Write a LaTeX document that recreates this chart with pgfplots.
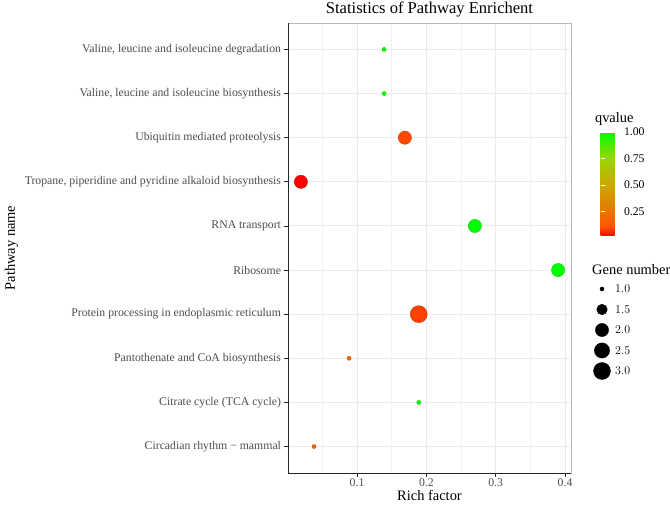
\documentclass[border=0pt]{standalone}
\usepackage{fontspec}
\setmainfont{Liberation Serif}
\usepackage{pgfplots}
\pgfplotsset{compat=1.18}
\usepackage{pgfplotstable}

\definecolor{txtgray}{HTML}{4D4D4D}
\definecolor{gridmaj}{HTML}{EBEBEB}
\definecolor{gridmin}{HTML}{F2F2F2}

% y: category position, r: rich factor, q: qvalue, g: gene number
\pgfplotstableread{
y r q g
10 0.139 1.00 1
9 0.139 1.00 1
8 0.169 0.10 2
7 0.019 0.02 2
6 0.270 1.00 2
5 0.390 1.00 2
4 0.189 0.09 3
3 0.0885 0.18 1
2 0.189 1.00 1
1 0.038 0.18 1
}\datatable

\pgfplotstableread{
pos g
5 1.0
4 1.5
3 2.0
2 2.5
1 3.0
}\sizetable

\pgfplotsset{colormap={qcol}{rgb255(0pt)=(255,0,0) rgb255(5pt)=(251,51,0) rgb255(10pt)=(255,86,0) rgb255(25pt)=(232,119,0) rgb255(50pt)=(200,171,0) rgb255(75pt)=(152,215,0) rgb255(100pt)=(0,255,0)}}

\newcommand{\tickfont}{\fontsize{11.8}{13}\selectfont}
\newcommand{\labfont}{\fontsize{14.5}{16}\selectfont}

\begin{document}
\begin{tikzpicture}
\useasboundingbox (0,0) rectangle (670bp,505bp);
\begin{axis}[
  at={(288bp,32bp)}, anchor=south west,
  scale only axis, width=283bp, height=450bp,
  xmin=0.0004, xmax=0.4086, ymin=0.4, ymax=10.6,
  xtick={0.1,0.2,0.3,0.4}, xticklabels={0.1,0.2,0.3,0.4},
  minor xtick={0.05,0.15,0.25,0.35},
  ytick={1,2,3,4,5,6,7,8,9,10},
  yticklabels={Circadian rhythm − mammal, Citrate cycle (TCA cycle), Pantothenate and CoA biosynthesis, Protein processing in endoplasmic reticulum, Ribosome, RNA transport, {Tropane, piperidine and pyridine alkaloid biosynthesis}, Ubiquitin mediated proteolysis, {Valine, leucine and isoleucine biosynthesis}, {Valine, leucine and isoleucine degradation}},
  grid=both,
  major grid style={gridmaj, line width=0.9bp},
  minor grid style={gridmin, line width=0.6bp},
  axis line style={gray!55, line width=0.8bp},
  tick align=outside, xtick pos=lower, ytick pos=left,
  major tick length=3.5bp, minor tick length=0pt,
  tick style={gray!30!black, line width=0.8bp},
  ticklabel style={font=\tickfont, text=txtgray},
  xticklabel style={yshift=1bp},
  xlabel={Rich factor}, ylabel={Pathway name},
  xlabel style={font=\labfont, yshift=4bp},
  ylabel style={font=\labfont},
  title={Statistics of Pathway Enrichent},
  title style={font=\fontsize{16.6}{18}\selectfont, yshift=-4bp},
  clip=false,
  colormap name=qcol,
  point meta min=0.02, point meta max=1,
  colorbar,
  colorbar style={
    at={(parent axis.south east)}, anchor=south west,
    xshift=21bp, yshift=237bp,
    scale only axis, width=20bp, height=104bp,
    ytick={0.25,0.5,0.75,1}, yticklabels={0.25,0.50,0.75,1.00},
    ytick pos=both, yticklabel pos=right,
    tick align=inside, major tick length=4bp,
    major tick style={white, line width=0.8bp},
    yticklabel style={font=\tickfont, text=black, xshift=0bp},
    axis line style={draw=none},
    title={qvalue},
    title style={font=\labfont, at={(0,1)}, anchor=south west, xshift=-9bp, yshift=-3bp},
  },
  after end axis/.code={
    \draw[gray!30!black, line width=0.8bp] (rel axis cs:0,1) -- (rel axis cs:0,0) -- (rel axis cs:1,0);
  },
]
\addplot[scatter, only marks, mark=*, scatter src=explicit,
  visualization depends on={0.75+1.29*(1+5*sqrt((\thisrow{g}-1)/2)) \as \rad},
  scatter/@pre marker code/.append style={/tikz/mark size=\rad bp}]
  table[x=r, y=y, meta=q]{\datatable};
\end{axis}

\begin{axis}[
  at={(592bp,123.75bp)}, anchor=south west,
  scale only axis, width=20bp, height=102.5bp,
  xmin=0, xmax=1, ymin=0.5, ymax=5.5,
  hide axis, clip=false,
]
\addplot[scatter, only marks, mark=*, scatter src=explicit,
  scatter/use mapped color={draw=black, fill=black},
  visualization depends on={0.75+1.29*(1+5*sqrt((\thisrow{g}-1)/2)) \as \rad},
  scatter/@pre marker code/.append style={/tikz/mark size=\rad bp}]
  table[x expr=0.5, y=pos, meta=g]{\sizetable};
\addplot[only marks, mark=none, point meta=explicit,
  nodes near coords={\pgfmathprintnumber[fixed, precision=1, zerofill]{\pgfplotspointmeta}},
  nodes near coords style={anchor=west, inner sep=0pt, xshift=13bp, font=\tickfont, text=black}]
  table[x expr=0.5, y=pos, meta=g]{\sizetable};
\node[anchor=south west, inner sep=0pt, font=\labfont] at (rel axis cs:0,1) [yshift=4bp] {Gene number};
\end{axis}
\end{tikzpicture}
\end{document}
